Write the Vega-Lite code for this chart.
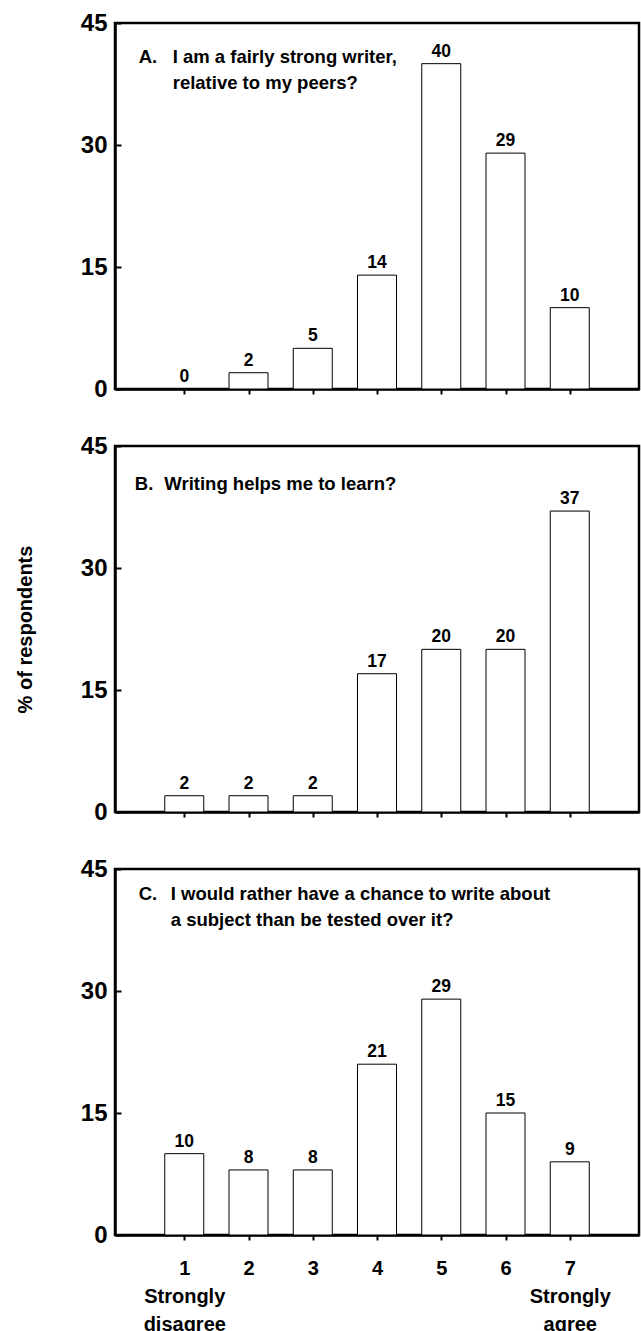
{
  "$schema": "https://vega.github.io/schema/vega-lite/v6.json",
  "padding": {"left": 14, "top": 9, "right": 0, "bottom": 0},
  "background": "white",
  "config": {
    "font": "Liberation Sans",
    "view": {"stroke": "black", "strokeWidth": 2.5},
    "axis": {
      "grid": false,
      "domainColor": "black",
      "domainWidth": 2.5,
      "tickColor": "black",
      "tickWidth": 2,
      "labelFont": "Liberation Sans",
      "labelFontWeight": "bold",
      "labelColor": "black",
      "titleFont": "Liberation Sans",
      "titleColor": "black"
    }
  },
  "datasets": {
    "survey": [
      {"panel": "A", "rating": 1, "pct": 0},
      {"panel": "A", "rating": 2, "pct": 2},
      {"panel": "A", "rating": 3, "pct": 5},
      {"panel": "A", "rating": 4, "pct": 14},
      {"panel": "A", "rating": 5, "pct": 40},
      {"panel": "A", "rating": 6, "pct": 29},
      {"panel": "A", "rating": 7, "pct": 10},
      {"panel": "B", "rating": 1, "pct": 2},
      {"panel": "B", "rating": 2, "pct": 2},
      {"panel": "B", "rating": 3, "pct": 2},
      {"panel": "B", "rating": 4, "pct": 17},
      {"panel": "B", "rating": 5, "pct": 20},
      {"panel": "B", "rating": 6, "pct": 20},
      {"panel": "B", "rating": 7, "pct": 37},
      {"panel": "C", "rating": 1, "pct": 10},
      {"panel": "C", "rating": 2, "pct": 8},
      {"panel": "C", "rating": 3, "pct": 8},
      {"panel": "C", "rating": 4, "pct": 21},
      {"panel": "C", "rating": 5, "pct": 29},
      {"panel": "C", "rating": 6, "pct": 15},
      {"panel": "C", "rating": 7, "pct": 9}
    ],
    "notes": [
      {"panel": "A", "tag": "A.", "question": ["I am a fairly strong writer,", "relative to my peers?"]},
      {"panel": "B", "tag": "B.", "question": ["Writing helps me to learn?"]},
      {"panel": "C", "tag": "C.", "question": ["I would rather have a chance to write about", "a subject than be tested over it?"]}
    ]
  },
  "columns": 1,
  "align": "each",
  "bounds": "full",
  "spacing": 29,
  "concat": [
    {
      "width": 524,
      "height": 366,
      "layer": [
        {"data": {"name": "survey"}, "transform": [{"filter": "datum.panel == 'A'"}],
         "mark": {"type": "bar", "width": 39, "fill": "white", "stroke": "black", "strokeWidth": 1},
         "encoding": {
           "x": {"field": "rating", "type": "quantitative", "scale": {"domain": [0, 8], "nice": false, "zero": false},
                 "axis": {"values": [1, 2, 3, 4, 5, 6, 7], "labels": false, "tickSize": 5, "title": null, "labelFlush": false}},
           "y": {"field": "pct", "type": "quantitative", "scale": {"domain": [0, 45], "nice": false},
                 "axis": {"values": [0, 15, 30, 45], "format": "d", "tickSize": -6, "labelFontSize": 24, "labelPadding": 14, "title": null}}
         }},
        {"data": {"name": "survey"}, "transform": [{"filter": "datum.panel == 'A'"}],
         "mark": {"type": "text", "dy": -7, "baseline": "alphabetic", "fontSize": 17.5, "fontWeight": "bold", "color": "black"},
         "encoding": {"x": {"field": "rating", "type": "quantitative"}, "y": {"field": "pct", "type": "quantitative"},
                      "text": {"field": "pct", "type": "quantitative"}}},
        {"data": {"name": "notes"}, "transform": [{"filter": "datum.panel == 'A'"}],
         "mark": {"type": "text", "align": "left", "baseline": "middle", "fontSize": 18.5, "fontWeight": "bold", "color": "black"},
         "encoding": {"x": {"datum": 0.29, "type": "quantitative"}, "y": {"datum": 40.8, "type": "quantitative"}, "text": {"field": "tag", "type": "nominal"}}},
        {"data": {"name": "notes"}, "transform": [{"filter": "datum.panel == 'A'"}],
         "mark": {"type": "text", "align": "left", "baseline": "middle", "fontSize": 18.5, "fontWeight": "bold", "color": "black", "lineHeight": 26},
         "encoding": {"x": {"datum": 0.82, "type": "quantitative"}, "y": {"datum": 40.8, "type": "quantitative"}, "text": {"field": "question", "type": "nominal"}}}
      ]
    },
    {
      "width": 524,
      "height": 366,
      "layer": [
        {"data": {"name": "survey"}, "transform": [{"filter": "datum.panel == 'B'"}],
         "mark": {"type": "bar", "width": 39, "fill": "white", "stroke": "black", "strokeWidth": 1},
         "encoding": {
           "x": {"field": "rating", "type": "quantitative", "scale": {"domain": [0, 8], "nice": false, "zero": false},
                 "axis": {"values": [1, 2, 3, 4, 5, 6, 7], "labels": false, "tickSize": 5, "title": null, "labelFlush": false}},
           "y": {"field": "pct", "type": "quantitative", "scale": {"domain": [0, 45], "nice": false},
                 "axis": {"values": [0, 15, 30, 45], "format": "d", "tickSize": -6, "labelFontSize": 24, "labelPadding": 14,
                          "title": "% of respondents", "titleFontSize": 20, "titleFontWeight": "bold", "titlePadding": 45}}
         }},
        {"data": {"name": "survey"}, "transform": [{"filter": "datum.panel == 'B'"}],
         "mark": {"type": "text", "dy": -7, "baseline": "alphabetic", "fontSize": 17.5, "fontWeight": "bold", "color": "black"},
         "encoding": {"x": {"field": "rating", "type": "quantitative"}, "y": {"field": "pct", "type": "quantitative"},
                      "text": {"field": "pct", "type": "quantitative"}}},
        {"data": {"name": "notes"}, "transform": [{"filter": "datum.panel == 'B'"}],
         "mark": {"type": "text", "align": "left", "baseline": "middle", "fontSize": 18.5, "fontWeight": "bold", "color": "black"},
         "encoding": {"x": {"datum": 0.23, "type": "quantitative"}, "y": {"datum": 40.3, "type": "quantitative"}, "text": {"field": "tag", "type": "nominal"}}},
        {"data": {"name": "notes"}, "transform": [{"filter": "datum.panel == 'B'"}],
         "mark": {"type": "text", "align": "left", "baseline": "middle", "fontSize": 18.5, "fontWeight": "bold", "color": "black", "lineHeight": 26},
         "encoding": {"x": {"datum": 0.69, "type": "quantitative"}, "y": {"datum": 40.3, "type": "quantitative"}, "text": {"field": "question", "type": "nominal"}}}
      ]
    },
    {
      "width": 524,
      "height": 366,
      "layer": [
        {"data": {"name": "survey"}, "transform": [{"filter": "datum.panel == 'C'"}],
         "mark": {"type": "bar", "width": 39, "fill": "white", "stroke": "black", "strokeWidth": 1},
         "encoding": {
           "x": {"field": "rating", "type": "quantitative", "scale": {"domain": [0, 8], "nice": false, "zero": false},
                 "axis": {"values": [1, 2, 3, 4, 5, 6, 7], "format": "d", "tickSize": 5, "title": null, "labelFlush": false,
                          "labelFontSize": 20, "labelPadding": 18, "labelLineHeight": 28, "labelBaseline": "top",
                          "labelExpr": "datum.value == 1 ? ['1', 'Strongly', 'disagree'] : datum.value == 7 ? ['7', 'Strongly', 'agree'] : datum.label"}},
           "y": {"field": "pct", "type": "quantitative", "scale": {"domain": [0, 45], "nice": false},
                 "axis": {"values": [0, 15, 30, 45], "format": "d", "tickSize": -6, "labelFontSize": 24, "labelPadding": 14, "title": null}}
         }},
        {"data": {"name": "survey"}, "transform": [{"filter": "datum.panel == 'C'"}],
         "mark": {"type": "text", "dy": -7, "baseline": "alphabetic", "fontSize": 17.5, "fontWeight": "bold", "color": "black"},
         "encoding": {"x": {"field": "rating", "type": "quantitative"}, "y": {"field": "pct", "type": "quantitative"},
                      "text": {"field": "pct", "type": "quantitative"}}},
        {"data": {"name": "notes"}, "transform": [{"filter": "datum.panel == 'C'"}],
         "mark": {"type": "text", "align": "left", "baseline": "middle", "fontSize": 18.5, "fontWeight": "bold", "color": "black"},
         "encoding": {"x": {"datum": 0.29, "type": "quantitative"}, "y": {"datum": 41.9, "type": "quantitative"}, "text": {"field": "tag", "type": "nominal"}}},
        {"data": {"name": "notes"}, "transform": [{"filter": "datum.panel == 'C'"}],
         "mark": {"type": "text", "align": "left", "baseline": "middle", "fontSize": 18.5, "fontWeight": "bold", "color": "black", "lineHeight": 26},
         "encoding": {"x": {"datum": 0.79, "type": "quantitative"}, "y": {"datum": 41.9, "type": "quantitative"}, "text": {"field": "question", "type": "nominal"}}}
      ]
    }
  ]
}
